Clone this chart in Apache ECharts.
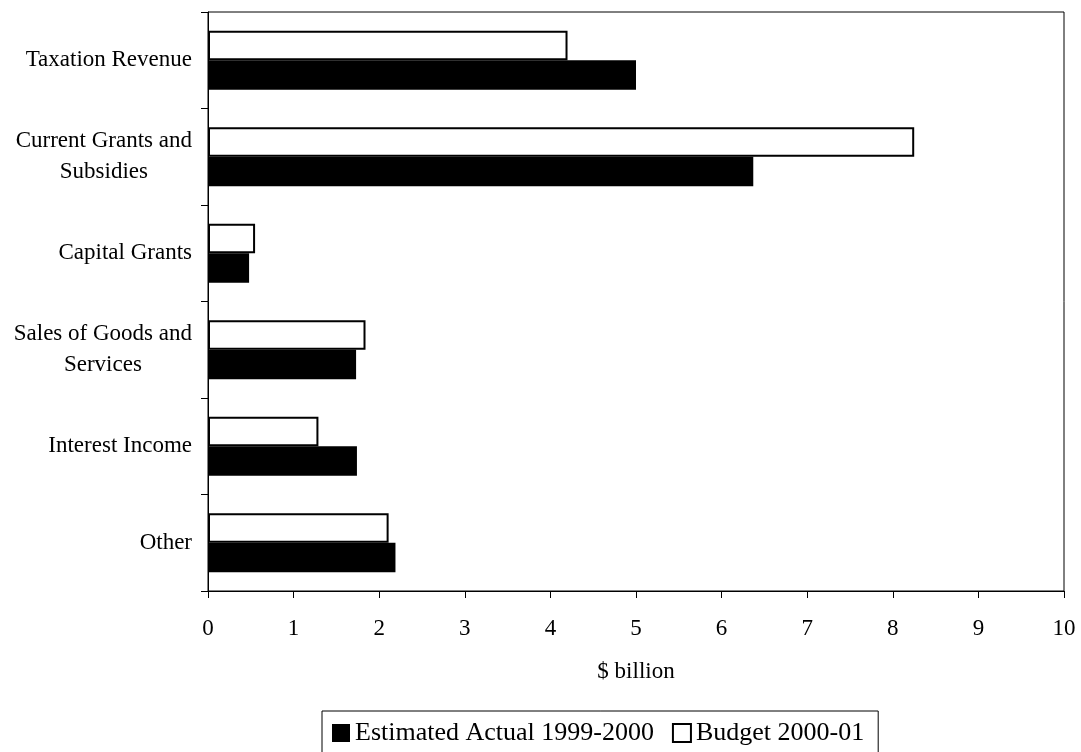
<!DOCTYPE html>
<html>
<head>
<meta charset="utf-8">
<script src="https://cdn.jsdelivr.net/npm/echarts@6/dist/echarts.min.js"></script>
<style>
  html, body { margin: 0; padding: 0; background: #fff; }
  #chart { width: 1081px; height: 752px; }
</style>
</head>
<body>
<div id="chart"></div>
<script>
// Revenue by source, $ billion
const categories = [
  'Taxation Revenue',
  'Current Grants and\nSubsidies',
  'Capital Grants',
  'Sales of Goods and\nServices',
  'Interest Income',
  'Other'
];
const estimatedActual = [5.0, 6.37, 0.48, 1.73, 1.74, 2.19];
const budget = [4.2, 8.25, 0.55, 1.84, 1.29, 2.11];
const seriesNames = ['Estimated Actual 1999-2000', 'Budget 2000-01'];
const xTickMin = 0, xTickMax = 10, xTickStep = 1;

const FONT = '"Liberation Serif", "Times New Roman", serif';

const chart = echarts.init(document.getElementById('chart'), null, { renderer: 'canvas' });

chart.setOption({
  backgroundColor: '#fff',
  animation: false,
  textStyle: { fontFamily: FONT, color: '#000' },
  grid: {
    left: 208, right: 17, top: 12, bottom: 161,
    show: true, borderColor: '#000', borderWidth: 1,
    backgroundColor: 'transparent'
  },
  legend: {
    data: seriesNames,
    left: 322, top: 711,
    orient: 'horizontal',
    icon: 'rect',
    itemWidth: 18, itemHeight: 18, itemGap: 18,
    padding: [9, 14, 14, 10],
    borderColor: '#000', borderWidth: 1,
    textStyle: { fontFamily: FONT, fontSize: 26, color: '#000' }
  },
  xAxis: {
    type: 'value',
    min: xTickMin, max: xTickMax, interval: xTickStep,
    name: '$ billion',
    nameLocation: 'middle',
    nameGap: 69,
    nameTextStyle: { fontFamily: FONT, fontSize: 23, color: '#000' },
    axisLine: { show: true, lineStyle: { color: '#000', width: 1 } },
    axisTick: { show: true, length: 7, lineStyle: { color: '#000' } },
    axisLabel: { fontFamily: FONT, fontSize: 23, color: '#000', margin: 26 },
    splitLine: { show: false }
  },
  yAxis: {
    type: 'category',
    data: categories,
    inverse: true,
    axisLine: { show: true, lineStyle: { color: '#000', width: 1 } },
    axisTick: { show: true, length: 7, lineStyle: { color: '#000' } },
    axisLabel: {
      margin: 16,
      align: 'right',
      formatter: v => v.split('\n').map(s => '{c|' + s + '}').join('\n'),
      rich: {
        c: { align: 'center', fontFamily: FONT, fontSize: 23, lineHeight: 31, color: '#000' }
      }
    },
    splitLine: { show: false }
  },
  series: [
    {
      name: seriesNames[1],
      type: 'bar',
      data: budget,
      barGap: '0%',
      barCategoryGap: '39%',
      itemStyle: { color: '#fff', borderColor: '#000', borderWidth: 2 }
    },
    {
      name: seriesNames[0],
      type: 'bar',
      data: estimatedActual,
      barGap: '0%',
      barCategoryGap: '39%',
      itemStyle: { color: '#000', borderColor: '#000', borderWidth: 0 }
    }
  ]
});
</script>
</body>
</html>
